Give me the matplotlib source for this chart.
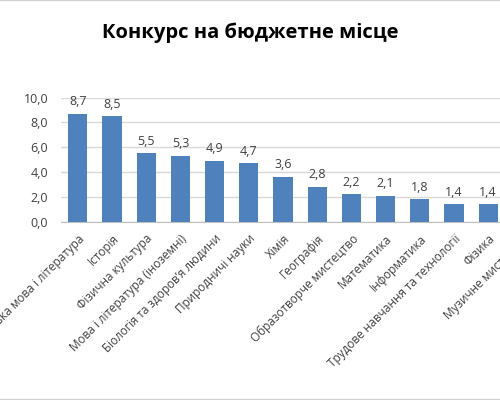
import matplotlib
matplotlib.use("Agg")
from matplotlib import pyplot as plt
from matplotlib.lines import Line2D

plt.rcParams['font.family'] = ['Open Sans', 'DejaVu Sans']

subjects = [
    "Українська мова і література",
    "Історія",
    "Фізична культура",
    "Мова і література (іноземні)",
    "Біологія та здоров’я людини",
    "Природничі науки",
    "Хімія",
    "Географія",
    "Образотворче мистецтво",
    "Математика",
    "Інформатика",
    "Трудове навчання та технології",
    "Фізика",
    "Музичне мистецтво",
]
competition = [8.7, 8.5, 5.5, 5.3, 4.9, 4.7, 3.6, 2.8, 2.2, 2.1, 1.8, 1.4, 1.4, 1.3]
y_ticks = [0, 2, 4, 6, 8, 10]

BAR_COLOR = "#4F81BD"
TEXT_COLOR = "#404040"


def comma(v):
    return f"{v:.1f}".replace(".", ",")


fig = plt.figure(figsize=(5, 4), dpi=100)
# the original is a cropped screenshot, so the plot area runs past the right edge
ax = fig.add_axes([0.1214, 0.4458, 0.9576, 0.31])

x = range(len(subjects))
bars = ax.bar(x, competition, width=0.56, color=BAR_COLOR, zorder=3)
for b, v in zip(bars, competition):
    ax.annotate(comma(v), (b.get_x() + b.get_width() / 2, v),
                xytext=(0, 4), textcoords="offset points",
                ha="center", va="bottom", fontsize=9, color=TEXT_COLOR)

ax.set_xlim(-0.5, len(subjects) - 0.5)
ax.set_ylim(0, 10)
ax.set_yticks(y_ticks)
ax.set_yticklabels([comma(t) for t in y_ticks])
ax.set_xticks(list(x))
ax.set_xticklabels(subjects, rotation=45, ha="right", rotation_mode="anchor")

ax.tick_params(axis="y", length=0, pad=9, labelsize=9, labelcolor=TEXT_COLOR)
ax.tick_params(axis="x", length=0, pad=7.5, labelsize=8.5, labelcolor=TEXT_COLOR)
ax.yaxis.grid(True, color="#D9D9D9", linewidth=1, zorder=0)
for side in ["top", "right", "left"]:
    ax.spines[side].set_visible(False)
ax.spines["bottom"].set_color("#BFBFBF")

fig.text(0.5, 0.9175, "Конкурс на бюджетне місце", ha="center", va="center",
         fontsize=14.5, fontweight="bold", color="black")

# thin screenshot borders at top and bottom
fig.add_artist(Line2D([0, 1], [0.999, 0.999], color="#D0D0D0", linewidth=1))
fig.add_artist(Line2D([0, 1], [0.003, 0.003], color="#D0D0D0", linewidth=1))

fig.savefig("out.png", dpi=100)
